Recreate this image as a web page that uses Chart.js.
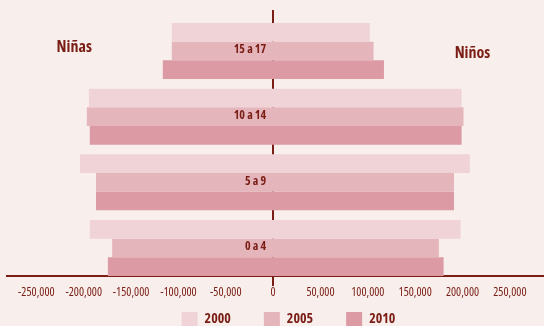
<!DOCTYPE html>
<html>
<head>
<meta charset="utf-8">
<script src="https://cdn.jsdelivr.net/npm/chart.js@4"></script>
<style>
html,body{margin:0;padding:0;background:#f8efec;}
#wrap{width:544px;height:326px;position:relative;}
</style>
</head>
<body>
<div id="wrap"><canvas id="c" width="544" height="326"></canvas></div>
<script>
const categories = ['15 a 17', '10 a 14', '5 a 9', '0 a 4'];
const years = ['2000', '2005', '2010'];
const ninas2000 = [107000, 194600, 204000, 193600];
const ninas2005 = [107000, 196700, 187000, 170000];
const ninas2010 = [116500, 193600, 187000, 174500];
const ninos2000 = [102000, 199000, 207700, 198000];
const ninos2005 = [106000, 201000, 191000, 175000];
const ninos2010 = [117000, 199000, 191000, 180000];
const xTicks = [-250000, -200000, -150000, -100000, -50000, 0, 50000, 100000, 150000, 200000, 250000];
const sideLabels = ['Niñas', 'Niños'];

const DARK = '#7a1d14';
const FAM = "'Open Sans', 'Roboto', sans-serif";
const colors = ['#f0d3d7', '#e5b5bc', '#dc9aa4'];
const ninas = [ninas2000, ninas2005, ninas2010];
const ninos = [ninos2000, ninos2005, ninos2010];

const datasets = years.map((yr, k) => ({
  label: yr,
  data: categories.map((c, i) => ({ y: i, x: [-ninas[k][i], ninos[k][i]] })),
  backgroundColor: colors[k],
  borderWidth: 0,
  barPercentage: 1,
  categoryPercentage: 0.853
}));

const sidePlugin = {
  id: 'side',
  afterLayout(chart) {
    const lg = chart.legend;
    lg.left += 13; lg.right += 13;
    lg.top -= 6; lg.bottom -= 6;
  },
  afterDraw(chart) {
    const ctx = chart.ctx, xs = chart.scales.x, ys = chart.scales.y;
    ctx.save();
    ctx.fillStyle = DARK;
    ctx.textBaseline = 'middle';
    ctx.font = "bold condensed 12px " + FAM;
    ctx.textAlign = 'right';
    const x0 = xs.getPixelForValue(0);
    categories.forEach((c, i) => {
      ctx.fillText(c, x0 - 7, ys.getPixelForValue(i) - 1);
    });
    ctx.font = "bold condensed 16px " + FAM;
    ctx.textAlign = 'center';
    ctx.fillText(sideLabels[0], xs.getPixelForValue(-210000), ys.getPixelForValue(-0.05));
    ctx.fillText(sideLabels[1], xs.getPixelForValue(210500), ys.getPixelForValue(0.03));
    ctx.restore();
  }
};

new Chart(document.getElementById('c'), {
  type: 'bar',
  data: { datasets },
  plugins: [sidePlugin],
  options: {
    indexAxis: 'y',
    responsive: false,
    animation: false,
    layout: { padding: { left: 7, right: 0, top: 11, bottom: -16 } },
    scales: {
      x: {
        type: 'linear',
        min: -281000,
        max: 286000,
        position: { y: 3.426 },
        z: 1,
        afterBuildTicks: (s) => { s.ticks = xTicks.map(v => ({ value: v })); },
        grid: { display: false, drawTicks: false },
        border: { display: true, color: DARK, width: 2 },
        ticks: {
          color: DARK,
          font: { family: FAM, size: 12, weight: 'condensed' },
          padding: 9,
          maxRotation: 0,
          autoSkip: false,
          callback: (v) => Number(v).toLocaleString('en-US')
        }
      },
      y: {
        type: 'linear',
        reverse: true,
        offset: false,
        min: -0.609,
        max: 3.563,
        position: { x: 0 },
        z: 1,
        afterBuildTicks: (s) => { s.ticks = categories.map((c, i) => ({ value: i })); },
        grid: { display: false, drawTicks: false },
        border: { display: true, color: DARK, width: 2 },
        ticks: { display: false }
      }
    },
    plugins: {
      tooltip: { enabled: false },
      legend: {
        position: 'bottom',
        labels: {
          boxWidth: 16,
          boxHeight: 14,
          padding: 33,
          color: DARK,
          font: { family: FAM, size: 14, weight: 'bold condensed' }
        }
      }
    }
  }
});
</script>
</body>
</html>
